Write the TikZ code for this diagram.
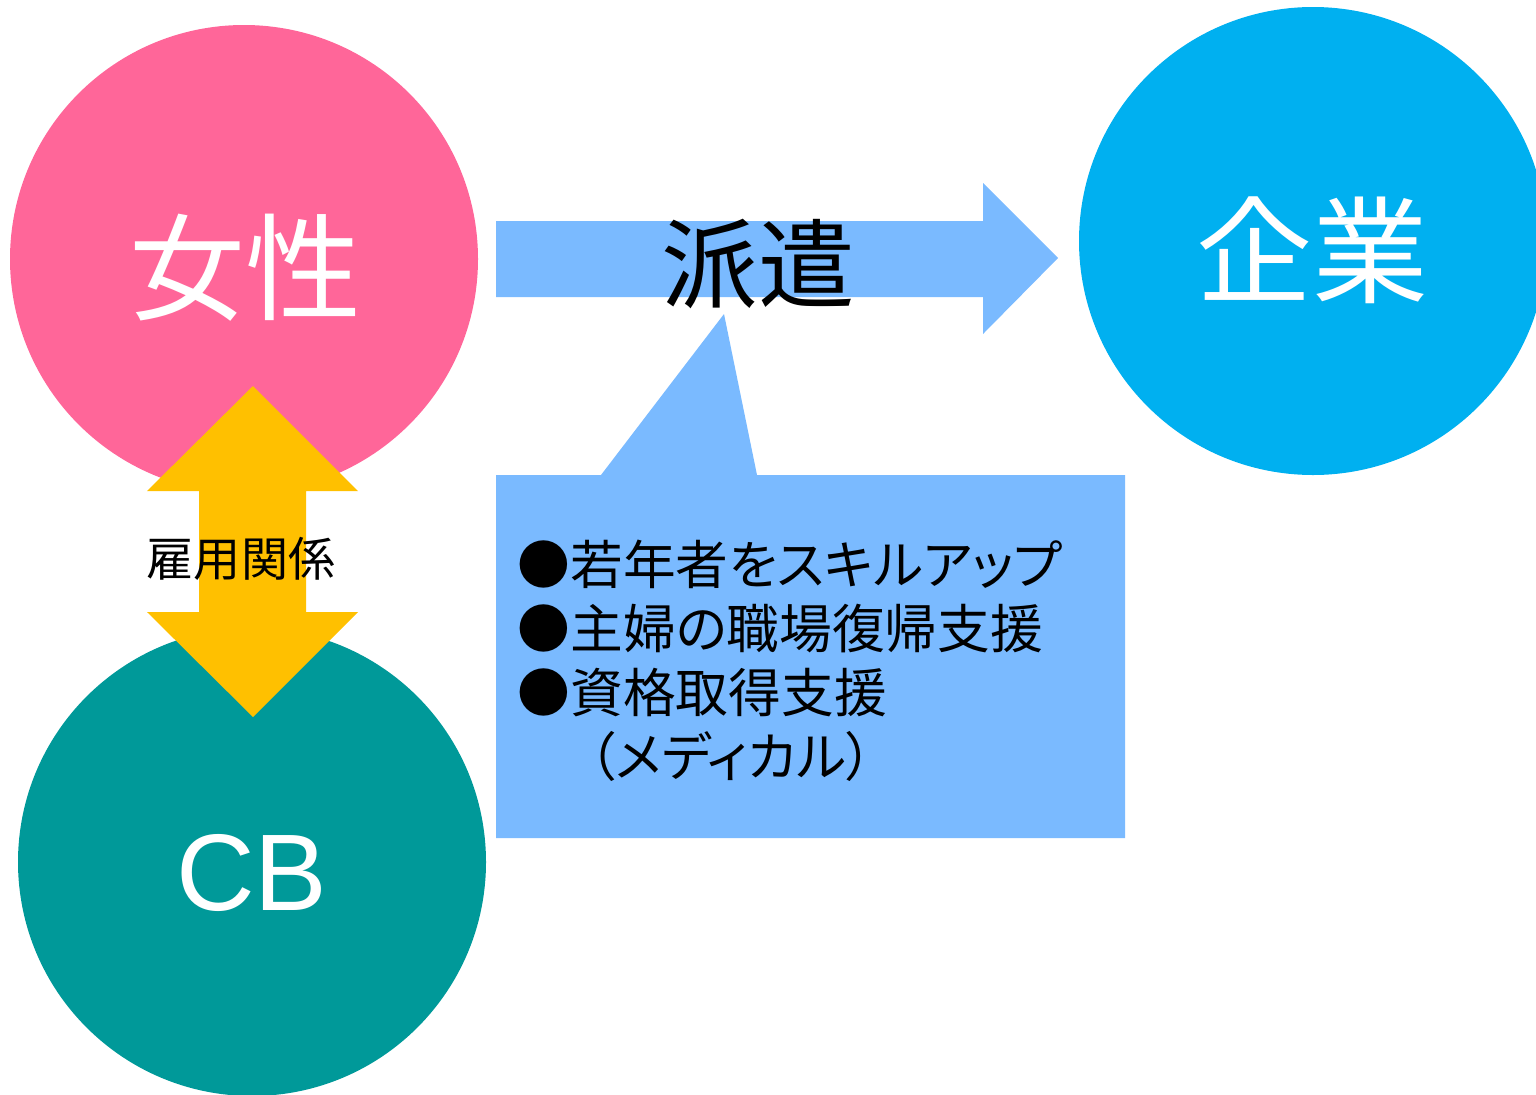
\documentclass[tikz,border=0pt]{standalone}
\usepackage{fontspec}
\usepackage{tikz}
\newfontfamily\jpfont{Noto Sans CJK JP}
\newfontfamily\jplistfont[RawFeature=+palt]{Noto Sans CJK JP}
\newfontfamily\cbfont{Liberation Sans}
\definecolor{womanpink}{HTML}{FF6699}
\definecolor{cbteal}{HTML}{009999}
\definecolor{companyblue}{HTML}{00B0F0}
\definecolor{dispatchblue}{HTML}{7ABAFF}
\definecolor{bondorange}{HTML}{FFC000}
\tikzset{
  circ/.style={circle,minimum size=4.68cm,inner sep=0pt},
  bigtext/.style={text=white,inner sep=0pt,font=\jpfont\fontsize{33}{33}\selectfont},
  listtext/.style={anchor=base west,inner sep=0pt,font=\jplistfont\fontsize{15}{18.2}\selectfont}
}

\begin{document}
\begin{tikzpicture}
\useasboundingbox (0,0) rectangle (15.36,-10.94);
\clip (0,0) rectangle (15.36,-10.94);

% circles
\node[circ,fill=womanpink] (woman) at (2.44,-2.59) {};
\node[circ,fill=cbteal] (cb) at (2.52,-8.62) {};
\node[circ,fill=companyblue] (company) at (13.13,-2.41) {};

% employment arrow
\fill[bondorange] (2.53,-3.86) -- (3.58,-4.91) -- (3.06,-4.91) -- (3.06,-6.12)
  -- (3.58,-6.12) -- (2.53,-7.17) -- (1.47,-6.12) -- (1.99,-6.12)
  -- (1.99,-4.91) -- (1.47,-4.91) -- cycle;

% dispatch arrow
\fill[dispatchblue] (4.96,-2.21) -- (9.83,-2.21) -- (9.83,-1.83) -- (10.58,-2.58)
  -- (9.83,-3.34) -- (9.83,-2.97) -- (4.96,-2.97) -- cycle;

% callout
\fill[dispatchblue] (4.96,-4.75) -- (6.01,-4.75) -- (7.24,-3.14) -- (7.57,-4.75)
  -- (11.25,-4.75) -- (11.25,-8.38) -- (4.96,-8.38) -- cycle;

\node[bigtext,anchor=base] (womanlabel) at (2.45,-3.11) {女性};
\node[bigtext,anchor=base] (companylabel) at (13.12,-2.94) {企業};
\node[text=white,inner sep=0pt,anchor=base,font=\cbfont\fontsize{31}{31}\selectfont] (cblabel) at (2.52,-9.10) {CB};
\node[inner sep=0pt,anchor=base,font=\jpfont\fontsize{27.5}{27.5}\selectfont] (dispatchlabel) at (7.58,-3.00) {派遣};
\node[inner sep=0pt,anchor=base,font=\jpfont\fontsize{13.4}{13.4}\selectfont] (bondlabel) at (2.41,-5.76) {雇用関係};

\node[listtext] (item1) at (5.17,-5.84) {●若年者をスキルアップ};
\node[listtext] (item2) at (5.17,-6.48) {●主婦の職場復帰支援};
\node[listtext] (item3) at (5.17,-7.12) {●資格取得支援};
\node[listtext] (item4) at (5.36,-7.76) {　（メディカル）};
\end{tikzpicture}
\end{document}
